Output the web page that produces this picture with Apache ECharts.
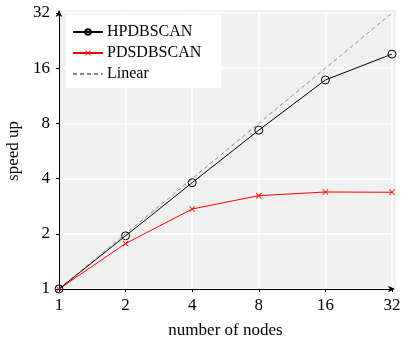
<!DOCTYPE html>
<html>
<head>
<meta charset="utf-8">
<script src="https://cdn.jsdelivr.net/npm/echarts@6/dist/echarts.min.js"></script>
<style>
html,body{margin:0;padding:0;background:#fff;}
#chart{width:401px;height:340px;}
</style>
</head>
<body>
<div id="chart"></div>
<script>
// number of nodes
const nodes = [1, 2, 4, 8, 16, 32];
// measured speed-ups
const hpdbscan = [1, 1.95, 3.8, 7.35, 13.8, 19.1];
const pdsdbscan = [1, 1.77, 2.73, 3.23, 3.38, 3.37];
// ideal scaling
const linear = [1, 2, 4, 8, 16, 32];

const FONT = '"Liberation Serif", "DejaVu Serif", serif';
const crossPath = 'path://M1,0L5,4L9,0L10,1L6,5L10,9L9,10L5,6L1,10L0,9L4,5L0,1Z';
const PLOT_BG = '#f0f0f0';

const pair = (xs, ys) => xs.map((x, i) => [x, ys[i]]);

const axisCommon = {
  type: 'log',
  logBase: 2,
  min: 1,
  max: 32,
  nameLocation: 'middle',
  nameTextStyle: { fontFamily: FONT, fontSize: 17, color: '#000' },
  axisLine: {
    show: true,
    onZero: false,
    lineStyle: { color: '#000', width: 1 },
    symbol: ['none', 'arrow'],
    symbolSize: [5, 7],
    symbolOffset: [0, 3]
  },
  axisTick: { show: true, length: 3, lineStyle: { color: '#000' } },
  axisLabel: {
    fontFamily: FONT, fontSize: 17, color: '#000',
    formatter: v => String(Math.round(v))
  },
  splitLine: { show: true, lineStyle: { color: '#fff', width: 1.5 } },
  minorTick: { show: false },
  minorSplitLine: { show: false }
};

const chart = echarts.init(document.getElementById('chart'), null, { renderer: 'canvas' });
chart.setOption({
  animation: false,
  backgroundColor: '#fff',
  grid: {
    left: 59, right: 9, top: 13, bottom: 51,
    containLabel: false,
    outerBoundsMode: 'none',
    show: true, backgroundColor: PLOT_BG, borderWidth: 0
  },
  legend: {
    left: 66, top: 15,
    orient: 'vertical',
    backgroundColor: '#fff',
    padding: [9, 20, 6, 6],
    itemGap: 5,
    itemWidth: 30,
    itemHeight: 7,
    textStyle: { fontFamily: FONT, fontSize: 16, color: '#000', padding: [0, 0, 0, -1] },
    data: [
      { name: 'HPDBSCAN' },
      { name: 'PDSDBSCAN' },
      { name: 'Linear', itemStyle: { opacity: 0 } }
    ]
  },
  xAxis: Object.assign({}, axisCommon, {
    name: 'number of nodes',
    nameGap: 33,
    axisLabel: Object.assign({}, axisCommon.axisLabel, { margin: 8 })
  }),
  yAxis: Object.assign({}, axisCommon, {
    name: 'speed up',
    nameGap: 36,
    axisLabel: Object.assign({}, axisCommon.axisLabel, { margin: 9 })
  }),
  series: [
    {
      name: 'Linear',
      type: 'line',
      data: pair(nodes, linear),
      symbol: 'none',
      lineStyle: { color: '#8a8a8a', width: 1, type: [4, 3] },
      itemStyle: { color: '#8a8a8a' },
      z: 1
    },
    {
      name: 'PDSDBSCAN',
      type: 'line',
      data: pair(nodes, pdsdbscan),
      symbol: crossPath,
      symbolSize: 6,
      lineStyle: { color: '#ff0000', width: 1 },
      itemStyle: { color: '#ff0000' },
      z: 2
    },
    {
      name: 'HPDBSCAN',
      type: 'line',
      data: pair(nodes, hpdbscan),
      symbol: 'circle',
      symbolSize: 8,
      lineStyle: { color: '#000', width: 1 },
      itemStyle: { color: 'rgba(0,0,0,0)', borderColor: '#000', borderWidth: 1 },
      z: 3
    }
  ]
});

// Extend the shaded plot background a few pixels past the axis ends, under the arrow heads.
const lo = chart.convertToPixel({ gridIndex: 0 }, [1, 1]);
const hi = chart.convertToPixel({ gridIndex: 0 }, [32, 32]);
chart.setOption({
  graphic: [{
    type: 'rect',
    z: -1,
    silent: true,
    shape: { x: lo[0], y: hi[1] - 3, width: hi[0] - lo[0] + 4, height: lo[1] - hi[1] + 3 },
    style: { fill: PLOT_BG }
  }]
});
</script>
</body>
</html>
